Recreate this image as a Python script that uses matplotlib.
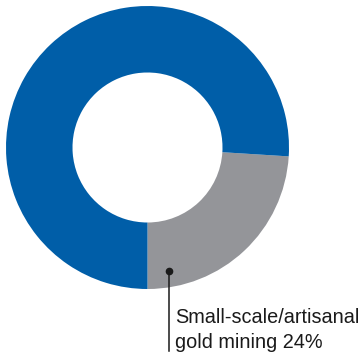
import matplotlib
matplotlib.use("Agg")
import matplotlib.pyplot as plt

labels = ["Small-scale/artisanal\ngold mining 24%", "Other"]
shares = [24, 76]
colors = ["#949599", "#005EA8"]

W, H = 364, 354
fig = plt.figure(figsize=(W / 100, H / 100), dpi=100)
ax = fig.add_axes([0, 0, 1, 1])

ax.pie(shares, colors=colors, startangle=-90, counterclock=True,
       center=(147.5, H - 147.5), radius=141.5,
       wedgeprops=dict(width=141.5 - 75, linewidth=0), frame=True)
ax.set_xlim(0, W); ax.set_ylim(0, H); ax.set_aspect("equal"); ax.axis("off")

# callout for the gray slice
ax.plot([169, 169], [H - 271, H - 351], color="#1a1a1a", lw=1.1)
ax.plot(169, H - 271, "o", color="#1a1a1a", ms=4.5)
for i, line in enumerate(labels[0].split("\n")):
    ax.text(175, H - 323 - 25 * i, line, ha="left", va="baseline", fontsize=14.3,
            family="Liberation Sans", color="#1a1a1a")

fig.savefig("out.png", dpi=100)
